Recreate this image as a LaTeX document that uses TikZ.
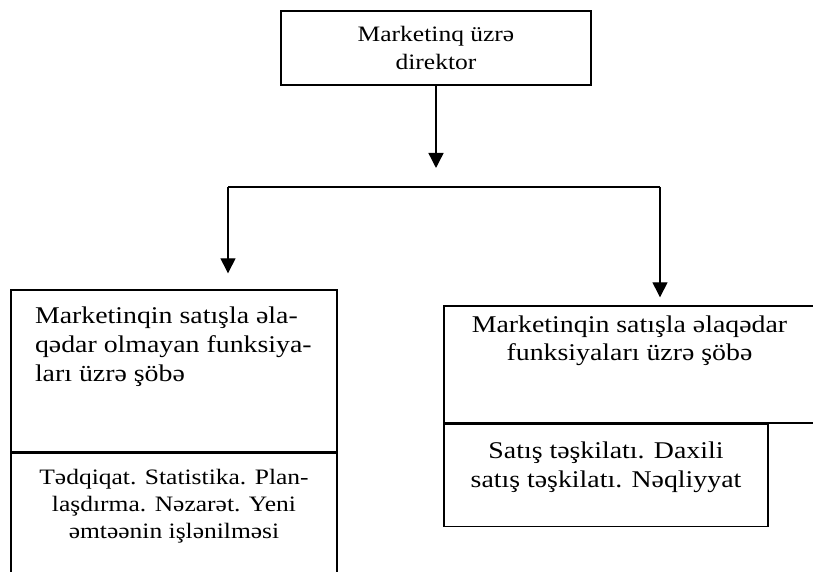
\documentclass[tikz,border=0pt]{standalone}
\usepackage{fontspec}
\setmainfont{Liberation Serif}[FakeStretch=1.16]
\usetikzlibrary{positioning}
\usetikzlibrary{arrows.meta}

\begin{document}
\begin{tikzpicture}
[x=1pt, y=1pt, line width=1.4pt,
% The box style is used to draw the frames of the departments
box/.style={rectangle, draw, inner sep=0pt},
% The txt style is used to write the names inside the frames
txt/.style={inner sep=0pt, align=center},
arr/.style={-{Triangle[width=15pt,length=15pt]}}
]
\useasboundingbox (0,0) rectangle (813,572);
% Draw director
\node [box, txt, minimum width=310pt, minimum height=74pt, font=\fontsize{22}{28}\selectfont] (direktor) at (436,524) {Marketinq üzrə\\direktor};
\coordinate (xsol) at (228,385);
\coordinate (xsag) at (660,385);

% Draw departments
\node [box, minimum width=326pt, minimum height=162pt] (bolme1) at (174,201) {};
\node [box, minimum width=326pt, minimum height=148pt, below=0pt of bolme1] (bolme1alt) {};
\node [box, minimum width=371pt, minimum height=117pt] (bolme2) at (629.5,207.5) {};
\node [box, minimum width=324pt, minimum height=102pt, below right=0pt and 0pt of bolme2.south west] (bolme2alt) {};

\node [txt, align=left, font=\fontsize{24}{29}\selectfont, below right=17pt and 24pt of bolme1.north west] (bolme1txt) {Marketinqin satışla əla-\\qədar olmayan funksiya-\\ları üzrə şöbə};
\node [txt, font=\fontsize{22}{27}\selectfont, below=16pt of bolme1alt.north] (bolme1alttxt) {Tədqiqat. Statistika. Plan-\\laşdırma. Nəzarət. Yeni\\əmtəənin işlənilməsi};
\node [txt, font=\fontsize{24}{28}\selectfont, below=9.5pt of bolme2.north] (bolme2txt) {Marketinqin satışla əlaqədar\\funksiyaları üzrə şöbə};
\node [txt, font=\fontsize{24}{29}\selectfont, below=17.5pt of bolme2alt.north] (bolme2alttxt) {Satış təşkilatı. Daxili\\satış təşkilatı. Nəqliyyat};

% Draw connectors
\draw[arr, shorten >=19pt] (direktor) -- (direktor |- xsol);
\draw (xsol) -- (xsag);
\draw[arr, shorten >=16pt] (xsol) -- (xsol |- bolme1.north);
\draw[arr, shorten >=8pt] (xsag) -- (xsag |- bolme2.north);
\end{tikzpicture}
\end{document}
